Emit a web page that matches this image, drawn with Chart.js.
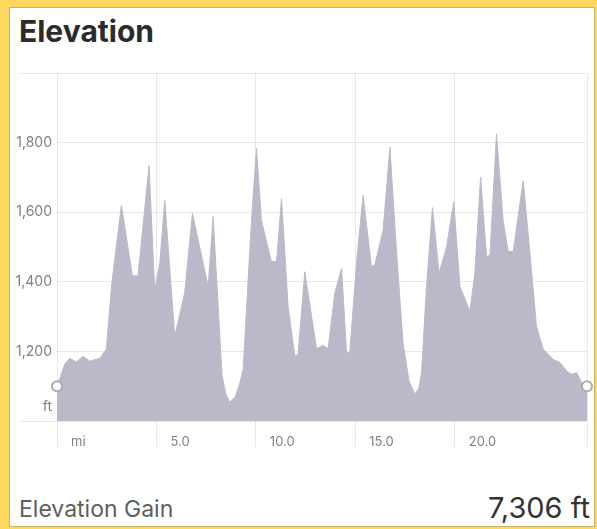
<!DOCTYPE html>
<html>
<head>
<meta charset="utf-8">
<script src="https://cdn.jsdelivr.net/npm/chart.js@4.4.1/dist/chart.umd.min.js"></script>
<style>
    html, body { margin: 0; padding: 0; }
    body { width: 597px; height: 529px; background: #fcd95c; position: relative; overflow: hidden; font-family: Inter, "Noto Sans", sans-serif; }
    .card { position: absolute; left: 9px; top: 7px; width: 586px; height: 520px; background: #fff; border: 1px solid #c9b364; box-sizing: border-box; }
    .title { position: absolute; left: 19px; top: 16px; font-size: 30px; line-height: 30px; font-weight: 700; color: #2b2b2b; margin: 0; }
    #elevation { position: absolute; left: 10px; top: 60px; }
    .gain-label { position: absolute; left: 19px; top: 498px; font-size: 23px; line-height: 23px; color: #5e5e5e; }
    .gain-value { position: absolute; right: 7px; top: 493px; font-size: 29px; line-height: 29px; color: #333; }
</style>
</head>
<body>
<div class="card"></div>
<h1 class="title">Elevation</h1>
<canvas id="elevation" width="584" height="401"></canvas>
<div class="gain-label">Elevation Gain</div>
<div class="gain-value">7,306 ft</div>
<script>
    // distance (mi) and elevation (ft)
    let miles = [0, 0.39, 0.64, 0.98, 1.31, 1.64, 2.15, 2.48, 2.74, 3.24, 3.79, 4.07, 4.63, 4.91, 5.17, 5.42,
        5.92, 6.42, 6.81, 7.6, 7.85, 8.3, 8.5, 8.69, 8.95, 9.2, 9.36, 9.78, 10.03, 10.28, 10.78, 11.04, 11.29, 11.62,
        11.96, 12.12, 12.46, 13.05, 13.38, 13.63, 13.97, 14.31, 14.56, 14.72, 15.06, 15.39, 15.81, 15.98, 16.4,
        16.74, 17.07, 17.4, 17.7, 17.99, 18.2, 18.33, 18.58, 18.88, 19.21, 19.59, 19.95, 20.26, 20.76, 21.01, 21.3,
        21.6, 21.77, 22.1, 22.43, 22.69, 22.94, 23.44, 23.78, 24.11, 24.45, 24.95, 25.29, 25.62, 25.88, 26.13,
        26.38, 26.65];
    let elevation = [1100, 1163, 1180, 1170, 1186, 1172, 1180, 1206, 1387, 1620, 1417, 1417, 1734, 1377, 1454, 1634,
        1244, 1368, 1597, 1387, 1587, 1130, 1075, 1054, 1068, 1110, 1149, 1577, 1783, 1577, 1458, 1458, 1639, 1329,
        1187, 1191, 1429, 1208, 1217, 1208, 1368, 1439, 1196, 1196, 1454, 1649, 1444, 1449, 1549,
        1787, 1490, 1225, 1115, 1077, 1095, 1139, 1387, 1613, 1425, 1501, 1630, 1387, 1315, 1425, 1701,
        1472, 1477, 1825, 1577, 1487, 1487, 1691, 1482, 1272, 1206, 1177, 1168, 1144, 1134, 1139,
        1110, 1100];
    let yTicks = {1000: "ft", 1200: "1,200", 1400: "1,400", 1600: "1,600", 1800: "1,800", 2000: ""};
    let xTicks = {0: "mi", 5: "5.0", 10: "10.0", 15: "15.0", 20: "20.0"};

    let fill = "#b9b9c9";
    let grid = "rgba(0, 0, 0, 0.085)";
    let tickFont = {family: "Inter", size: 14, lineHeight: 1.05};
    let last = miles.length - 1;

    new Chart(document.getElementById("elevation"), {
        type: "line",
        data: {
            datasets: [
                {
                    data: miles.map((m, i) => ({x: m, y: elevation[i]})),
                    fill: "start",
                    backgroundColor: fill,
                    borderColor: fill,
                    borderWidth: 1,
                    tension: 0,
                    clip: false,
                    pointRadius: (ctx) => (ctx.dataIndex === 0 || ctx.dataIndex === last) ? 5 : 0,
                    pointBackgroundColor: "#fff",
                    pointBorderColor: "#ababab",
                    pointBorderWidth: 2,
                }
            ]
        },
        options: {
            responsive: false,
            animation: false,
            layout: {padding: {left: 0, right: 7, top: 13, bottom: 0}},
            plugins: {legend: {display: false}, tooltip: {enabled: false}},
            scales: {
                x: {
                    type: "linear",
                    min: 0,
                    max: miles[last],
                    z: 1,
                    afterFit: (scale) => { scale.height = 40 },
                    border: {display: false},
                    grid: {color: grid, tickColor: grid, tickLength: 26},
                    ticks: {
                        stepSize: 5,
                        autoSkip: false,
                        maxRotation: 0,
                        align: "start",
                        labelOffset: 14,
                        padding: -13,
                        color: "#808080",
                        font: {family: "Inter", size: 13},
                        callback: (v) => xTicks[v] ?? ""
                    }
                },
                y: {
                    min: 1000,
                    max: 2000,
                    z: 1,
                    afterFit: (scale) => { scale.width = 47 },
                    border: {display: false},
                    grid: {
                        color: grid,
                        tickLength: 39,
                        tickColor: (ctx) => (ctx.tick && (ctx.tick.value === 1000 || ctx.tick.value === 2000)) ? grid : "rgba(0,0,0,0)"
                    },
                    ticks: {
                        stepSize: 200,
                        padding: -34,
                        color: "#808080",
                        font: tickFont,
                        callback: (v) => v === 1000 ? ["ft", "", ""] : (yTicks[v] ?? "")
                    }
                }
            }
        }
    })
</script>
</body>
</html>
